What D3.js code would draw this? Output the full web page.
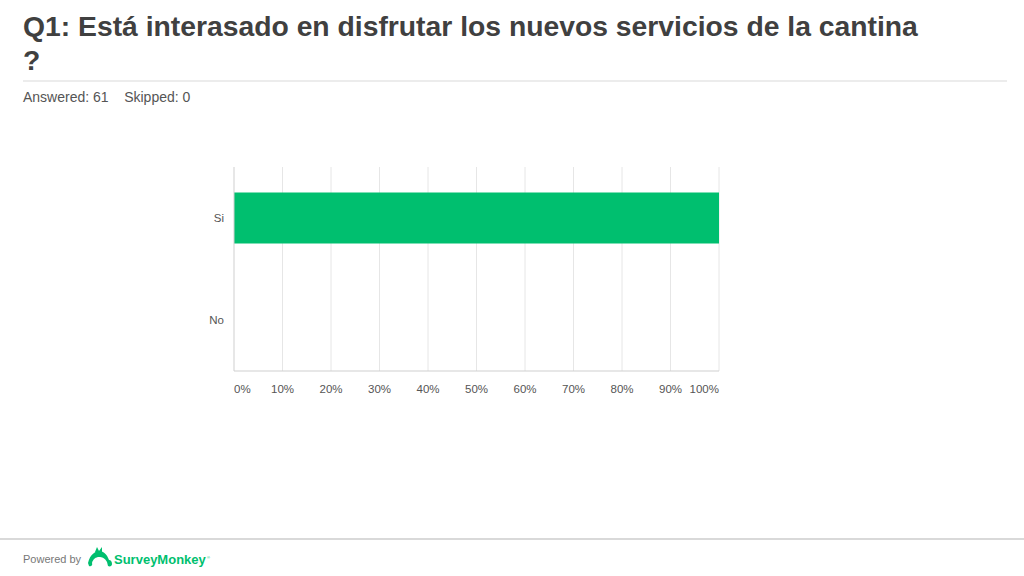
<!DOCTYPE html>
<html><head><meta charset="utf-8">
<script src="https://cdn.jsdelivr.net/npm/d3@7"></script>
<style>body{margin:0;background:#fff;font-family:"Liberation Sans",Arial,sans-serif}</style>
</head><body><svg id="c" width="1024" height="576"></svg>
<script>
// survey answers
const categories = ["Si", "No"];
const percents = [100, 0];
const tickValues = [0, 10, 20, 30, 40, 50, 60, 70, 80, 90, 100];

const svg = d3.select("#c");

// header
const title = svg.append("text").attr("x", 23).attr("y", 36)
    .attr("font-size", 28.3).attr("font-weight", "bold").attr("fill", "#404040");
title.append("tspan").attr("x", 23).text("Q1: Está interasado en disfrutar los nuevos servicios de la cantina");
title.append("tspan").attr("x", 23).attr("dy", 34).text("?");
svg.append("line").attr("x1", 23).attr("x2", 1007).attr("y1", 81).attr("y2", 81)
    .attr("stroke", "#d9d9d9");
svg.append("text").attr("x", 23).attr("y", 102).attr("font-size", 14).attr("fill", "#555")
    .attr("xml:space", "preserve").text("Answered: 61    Skipped: 0");

// chart
const x = d3.scaleLinear().domain([0, 100]).range([234, 719]);
const y = d3.scaleBand().domain(categories).range([167, 371]).paddingInner(0.5).paddingOuter(0.25);

svg.append("g").selectAll("line").data(tickValues.slice(1)).join("line")
    .attr("x1", d => x(d)).attr("x2", d => x(d)).attr("y1", 167).attr("y2", 371)
    .attr("stroke", "#e6e6e6");

svg.append("g").selectAll("rect").data(categories).join("rect")
    .attr("x", x(0)).attr("y", d => y(d))
    .attr("width", (d, i) => x(percents[i]) - x(0)).attr("height", y.bandwidth())
    .attr("fill", "#00bf6f");

svg.append("line").attr("x1", 234).attr("x2", 234).attr("y1", 167).attr("y2", 371).attr("stroke", "#cfcfcf");
svg.append("line").attr("x1", 234).attr("x2", 719).attr("y1", 371).attr("y2", 371).attr("stroke", "#cfcfcf");

svg.append("g").selectAll("text").data(categories).join("text")
    .attr("x", 224).attr("y", d => y(d) + y.bandwidth() / 2 + 4)
    .attr("text-anchor", "end").attr("font-size", 11.5).attr("fill", "#555").text(d => d);

svg.append("g").selectAll("text").data(tickValues).join("text")
    .attr("x", d => x(d)).attr("y", 393)
    .attr("text-anchor", (d, i) => i === 0 ? "start" : i === tickValues.length - 1 ? "end" : "middle")
    .attr("font-size", 11.5).attr("fill", "#555").text(d => d + "%");

// footer
svg.append("line").attr("x1", 0).attr("x2", 1024).attr("y1", 539).attr("y2", 539)
    .attr("stroke", "#d9d9d9").attr("stroke-width", 2);
svg.append("text").attr("x", 23).attr("y", 563).attr("font-size", 11).attr("fill", "#777").text("Powered by");
const logo = svg.append("g").attr("transform", "translate(88,552)");
logo.append("path").attr("d", "M0,11 C2,2 8,-1 11,-1 C15,-1 19,2 21,8 C23,8 24,10 24,12 C24,14 22,15 20,14 L19,10 C17,6 14,5 11,5 C8,5 5,7 4,11 C5,13 3,15 1,14 Z")
    .attr("fill", "#00bf6f");
logo.append("path").attr("d", "M7,0 L9,-5 L11,-1 L14,-5 L14,0 Z").attr("fill", "#00bf6f");
svg.append("text").attr("x", 114).attr("y", 564).attr("font-size", 13).attr("font-weight", "bold")
    .attr("fill", "#00bf6f").text("SurveyMonkey");
svg.append("text").attr("x", 207).attr("y", 559).attr("font-size", 4).attr("fill", "#00bf6f").text("®");
</script></body></html>
